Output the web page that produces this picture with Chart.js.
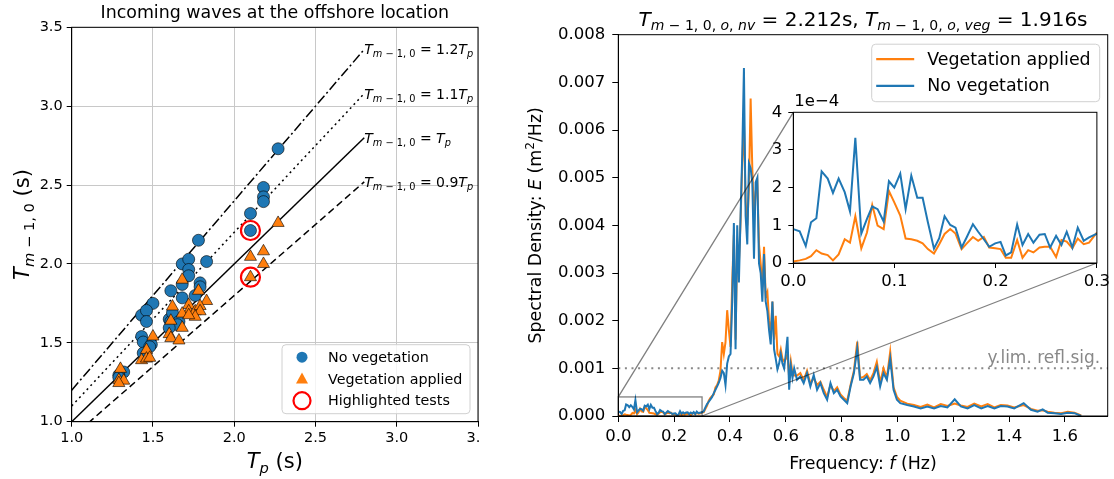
<!DOCTYPE html>
<html>
<head>
<meta charset="utf-8">
<script src="https://cdn.jsdelivr.net/npm/chart.js@4.4.0/dist/chart.umd.min.js"></script>
<style>
  body { margin: 0; background: #fff; width: 1114px; height: 479px; overflow: hidden; position: relative; }
  canvas { position: absolute; top: 0; }
  #left { left: 0; }
  #right { left: 480px; background: #fff; }
  #inset { left: 480px; }
</style>
</head>
<body>
<canvas id="left" width="500" height="479"></canvas>
<canvas id="right" width="634" height="479"></canvas>
<canvas id="inset" width="634" height="479"></canvas>
<script>
// ---- left panel: Tm-1,0 against Tp ----
var noVegTp = [2.27, 2.18, 2.18, 2.18, 2.10, 2.10, 1.78, 1.83, 1.68, 1.72, 1.72, 1.72, 1.68, 1.79, 1.79, 1.76, 1.68, 1.61,
               1.60, 1.61, 1.62, 1.66, 1.65, 1.60, 1.50, 1.43, 1.46, 1.46, 1.43, 1.44, 1.49, 1.48, 1.44, 1.32, 1.29, 1.29];
var noVegTm = [2.73, 2.485, 2.425, 2.395, 2.32, 2.212, 2.15, 2.015, 2.0, 2.03, 1.965, 1.925, 1.87, 1.88, 1.855, 1.80, 1.785, 1.83,
               1.65, 1.635, 1.69, 1.635, 1.615, 1.595, 1.75, 1.675, 1.705, 1.635, 1.54, 1.505, 1.49, 1.475, 1.435, 1.315, 1.295, 1.28];
var vegTp = [2.27, 2.18, 2.10, 2.18, 2.10, 1.68, 1.78, 1.83, 1.62, 1.72, 1.72, 1.68, 1.76, 1.79, 1.79, 1.76, 1.72, 1.61,
             1.68, 1.60, 1.61, 1.66, 1.50, 1.46, 1.43, 1.46, 1.48, 1.30, 1.29, 1.32, 1.29];
var vegTm = [2.26, 2.08, 2.045, 2.0, 1.916, 1.90, 1.83, 1.765, 1.73, 1.74, 1.70, 1.685, 1.70, 1.733, 1.70, 1.665, 1.675, 1.64,
             1.595, 1.555, 1.53, 1.515, 1.54, 1.455, 1.39, 1.40, 1.405, 1.335, 1.265, 1.26, 1.245];
var highlightTp = [2.1, 2.1];
var highlightTm = [2.212, 1.916];
var refRatios = [1.2, 1.1, 1.0, 0.9];
var refLabels = ['1.2', '1.1', '', '0.9'];
var refTp = [1.0, 2.8];

// ---- right panel: spectra (units of 1e-4 m2/Hz) ----
var E_UNIT = 1e-4;
var freqLow = [0, 0.0063, 0.0123, 0.0175, 0.0228, 0.028, 0.034, 0.0392, 0.0448, 0.0508, 0.056, 0.0613, 0.0672, 0.0728,
               0.078, 0.0833, 0.0893, 0.0945, 0.0998, 0.1057, 0.111, 0.1166, 0.1225, 0.1278, 0.133, 0.139, 0.1442, 0.1495,
               0.1551, 0.1603, 0.1663, 0.1715, 0.1775, 0.1827, 0.1883, 0.1936, 0.1995, 0.2048, 0.21, 0.2153, 0.2212,
               0.2265, 0.2321, 0.2373, 0.2433, 0.2485, 0.2538, 0.2597, 0.265, 0.2702, 0.2758, 0.2811, 0.287, 0.2923, 0.3];
var nvLow = [0.90, 0.84, 0.45, 1.08, 1.19, 2.43, 2.24, 1.86, 2.24, 1.88, 1.37, 3.32, 0.78, 1.17, 1.50, 1.43, 1.10, 2.17,
             2.0, 2.37, 1.43, 2.32, 1.73, 1.73, 1.08, 0.38, 0.66, 1.24, 1.01, 0.94, 0.41, 0.69, 1.03, 0.83, 0.63, 0.43,
             0.52, 0.56, 0.20, 0.28, 1.02, 0.48, 0.77, 0.54, 0.75, 0.77, 0.41, 0.72, 0.48, 0.83, 0.41, 0.94, 0.59, 0.68, 0.78];
var vegLow = [0.04, 0.07, 0.11, 0.18, 0.34, 0.25, 0.21, 0.07, 0.23, 0.63, 0.54, 1.24, 0.39, 0.81, 1.54, 0.99, 0.90, 1.91,
              1.61, 1.26, 0.65, 0.63, 0.59, 0.52, 0.37, 0.25, 0.50, 0.77, 0.90, 0.78, 0.37, 0.52, 0.69, 0.59, 0.69, 0.41,
              0.39, 0.37, 0.14, 0.14, 0.61, 0.14, 0.34, 0.28, 0.41, 0.43, 0.43, 0.16, 0.61, 0.57, 0.39, 0.65, 0.50, 0.54, 0.81];
var freqHigh = [0.306, 0.312, 0.318, 0.324, 0.33, 0.336, 0.342, 0.348, 0.354, 0.36, 0.366, 0.372, 0.378, 0.384, 0.39, 0.396,
                0.402, 0.408, 0.414, 0.42, 0.426, 0.432, 0.438, 0.444, 0.45, 0.456, 0.462, 0.468, 0.474, 0.48, 0.486, 0.492,
                0.498, 0.504, 0.51, 0.516, 0.522, 0.528, 0.534, 0.54, 0.546, 0.552, 0.558, 0.564, 0.57, 0.576, 0.582, 0.588,
                0.594, 0.6, 0.606, 0.612, 0.618, 0.624, 0.63,
                0.64, 0.652, 0.664, 0.676, 0.688, 0.7, 0.712, 0.724, 0.736, 0.748, 0.76, 0.772, 0.784, 0.796, 0.808, 0.82,
                0.832, 0.844, 0.856, 0.866, 0.878, 0.89, 0.902, 0.914, 0.926, 0.938, 0.95, 0.962, 0.974, 0.986, 0.998, 1.01,
                1.035, 1.059, 1.083, 1.107, 1.131, 1.155, 1.179, 1.205, 1.227, 1.251, 1.275, 1.3, 1.323, 1.347, 1.37, 1.394,
                1.418, 1.452, 1.478, 1.502, 1.52, 1.538, 1.562, 1.586, 1.61, 1.634, 1.658];
var nvHigh = [1.0, 1.8, 2.5, 3.0, 3.5, 4.0, 4.8, 5.5, 6.2, 7.0, 8.0, 9.5, 9.0, 6.5, 11.0, 12.5, 13.0, 24.0, 40.5, 14.0,
              40.0, 28.0, 42.0, 55.0, 73.0, 42.0, 36.0, 53.0, 52.0, 49.0, 33.0, 49.0, 50.0, 32.0, 30.0, 24.0, 34.0, 24.0,
              22.0, 18.0, 15.0, 24.0, 14.0, 12.0, 9.8, 11.0, 13.0, 11.0, 10.0, 13.0, 16.6, 5.5, 10.5, 8.0, 10.0,
              7.6, 8.3, 6.9, 9.0, 6.2, 8.6, 5.5, 6.9, 4.8, 3.4, 6.9, 4.8, 5.5, 4.1, 3.4, 2.7, 6.2, 9.0, 14.2, 7.6,
              7.6, 8.3, 6.9, 8.3, 10.3, 6.2, 9.0, 7.6, 12.1, 5.5, 3.4, 2.7,
              2.3, 2.0, 1.6, 2.0, 1.6, 2.1, 1.8, 3.5, 2.0, 1.6, 2.3, 1.6, 2.1, 1.6, 2.1, 2.0, 1.6, 2.7, 1.3, 0.9,
              1.4, 0.7, 0.6, 0.4, 0.7, 0.6, 0.0];
var vegHigh = [0.8, 1.5, 2.2, 3.2, 3.8, 4.2, 4.5, 6.0, 6.5, 7.5, 9.5, 15.5, 13.0, 15.5, 22.2, 18.0, 14.5, 28.0, 38.0, 16.0,
               36.0, 32.0, 41.0, 53.0, 62.0, 45.0, 40.0, 48.0, 66.6, 52.0, 42.0, 47.0, 49.0, 36.0, 32.0, 27.0, 35.5, 25.0,
               26.0, 20.0, 17.0, 24.0, 16.0, 21.0, 13.0, 12.5, 14.0, 12.0, 11.5, 12.0, 13.0, 8.0, 11.5, 9.0, 8.5,
               8.5, 9.0, 7.5, 9.5, 6.8, 8.0, 6.5, 7.2, 5.5, 4.0, 6.5, 5.2, 6.0, 4.5, 3.8, 3.2, 6.5, 9.5, 15.6, 8.0,
               8.2, 8.8, 7.5, 9.0, 11.4, 7.0, 10.0, 8.0, 13.5, 6.0, 4.0, 3.2,
               2.6, 2.3, 1.9, 2.4, 1.8, 2.5, 2.1, 2.6, 2.2, 1.9, 2.6, 2.0, 2.5, 1.8, 2.3, 2.2, 1.8, 2.3, 1.5, 1.1,
               1.2, 0.9, 0.7, 0.6, 0.9, 0.7, 0.1];
var reflLimit = 0.001;
var insetX = [0, 0.3];
var insetY = [0, 4e-4];

var BLUE = '#1f77b4', ORANGE = '#ff7f0e', RED = '#ff0000';
var FAMILY = '"DejaVu Sans"';
Chart.defaults.font.family = FAMILY;
Chart.defaults.color = '#000';

function pts(xs, ys, unit) {
  return xs.map(function (v, i) { return {x: v, y: ys[i] * (unit || 1)}; });
}

// draws text made of pieces: '' roman, 'i' italic, '_' subscript, '^' superscript
function partFont(p, size) {
  var small = p[1].indexOf('_') >= 0 || p[1].indexOf('^') >= 0;
  return (p[1].indexOf('i') >= 0 ? 'italic ' : '') + (small ? size * 0.7 : size) + 'px ' + FAMILY;
}
function drawRich(ctx, parts, x, y, size, align) {
  ctx.save();
  ctx.textAlign = 'left';
  ctx.textBaseline = 'alphabetic';
  var w = 0;
  parts.forEach(function (p) { ctx.font = partFont(p, size); w += ctx.measureText(p[0]).width; });
  var cx = align === 'center' ? x - w / 2 : (align === 'right' ? x - w : x);
  parts.forEach(function (p) {
    ctx.font = partFont(p, size);
    var dy = p[1].indexOf('_') >= 0 ? size * 0.22 : (p[1].indexOf('^') >= 0 ? -size * 0.42 : 0);
    ctx.fillText(p[0], cx, y + dy);
    cx += ctx.measureText(p[0]).width;
  });
  ctx.restore();
}
var TM = [['T', 'i'], ['m', '_i'], [' \u2212 1, 0', '_']];

function tickOpts(size, pad, fmt) {
  return {font: {size: size}, color: '#000', padding: pad, callback: fmt};
}

// ---------------- left chart ----------------
var leftDecor = {
  id: 'leftDecor',
  afterDraw: function (chart) {
    var ctx = chart.ctx, a = chart.chartArea, x = chart.scales.x, y = chart.scales.y;
    ctx.save();
    ctx.strokeStyle = '#000';
    ctx.lineWidth = 1;
    ctx.strokeRect(a.left, a.top, a.right - a.left, a.bottom - a.top);
    ctx.fillStyle = '#000';
    refRatios.forEach(function (k, i) {
      var px = x.getPixelForValue(refTp[1]), py = y.getPixelForValue(k * refTp[1]);
      drawRich(ctx, TM.concat([[' = ' + refLabels[i], ''], ['T', 'i'], ['p', '_i']]), px, py + 5, 14, 'left');
    });
    var cx = (a.left + a.right) / 2, cy = (a.top + a.bottom) / 2;
    ctx.font = '17.4px ' + FAMILY;
    ctx.textAlign = 'center';
    ctx.fillText('Incoming waves at the offshore location', cx, 18);
    drawRich(ctx, [['T', 'i'], ['p', '_i'], [' (s)', '']], cx, 468, 21, 'center');
    ctx.save();
    ctx.translate(29, cy);
    ctx.rotate(-Math.PI / 2);
    drawRich(ctx, TM.concat([[' (s)', '']]), 0, 0, 21, 'center');
    ctx.restore();

    // legend
    var bw = 188, bh = 69, bx = a.right - 8 - bw, by = a.bottom - 8 - bh;
    ctx.beginPath();
    ctx.roundRect(bx, by, bw, bh, 4);
    ctx.fillStyle = 'rgba(255,255,255,0.8)';
    ctx.fill();
    ctx.strokeStyle = '#d0d0d0';
    ctx.stroke();
    var rows = [by + 12.5, by + 34.3, by + 56];
    var mx = bx + 20;
    ctx.fillStyle = BLUE;
    ctx.beginPath(); ctx.arc(mx, rows[0], 5.5, 0, Math.PI * 2); ctx.fill();
    ctx.fillStyle = ORANGE;
    ctx.beginPath();
    ctx.moveTo(mx, rows[1] - 6.5); ctx.lineTo(mx + 6, rows[1] + 4.5); ctx.lineTo(mx - 6, rows[1] + 4.5);
    ctx.closePath(); ctx.fill();
    ctx.strokeStyle = RED; ctx.lineWidth = 2.2;
    ctx.beginPath(); ctx.arc(mx, rows[2], 8.5, 0, Math.PI * 2); ctx.stroke();
    ctx.fillStyle = '#000';
    ctx.font = '14.3px ' + FAMILY;
    ctx.textAlign = 'left';
    ctx.textBaseline = 'middle';
    ['No vegetation', 'Vegetation applied', 'Highlighted tests'].forEach(function (t, i) {
      ctx.fillText(t, bx + 46, rows[i] + 1);
    });
    ctx.restore();
  }
};

var refDashes = [[10, 3, 2, 3], [2, 3.5], [], [7, 4]];
var refSets = refRatios.map(function (k, i) {
  return {
    data: refTp.map(function (t) { return {x: t, y: k * t}; }),
    showLine: true, pointRadius: 0, borderColor: '#000', borderWidth: 1.5, borderDash: refDashes[i]
  };
});

new Chart(document.getElementById('left'), {
  type: 'scatter',
  data: {
    datasets: [
      {data: pts(highlightTp, highlightTm), pointStyle: 'circle', pointRadius: 9.5, pointBorderWidth: 2.2,
       pointBorderColor: RED, pointBackgroundColor: 'rgba(0,0,0,0)'},
      {data: pts(vegTp, vegTm), pointStyle: 'triangle', pointRadius: 7, pointBorderWidth: 0.6,
       pointBorderColor: '#000', pointBackgroundColor: ORANGE},
      {data: pts(noVegTp, noVegTm), pointStyle: 'circle', pointRadius: 6, pointBorderWidth: 0.6,
       pointBorderColor: '#000', pointBackgroundColor: BLUE}
    ].concat(refSets)
  },
  options: {
    responsive: false, animation: false, events: [],
    layout: {padding: {left: 0, top: 27.3, right: 22, bottom: 0}},
    plugins: {legend: {display: false}, tooltip: {enabled: false}},
    scales: {
      x: {type: 'linear', min: 1, max: 3.5,
          ticks: Object.assign(tickOpts(14.5, 3, function (v) { return v.toFixed(1); }), {stepSize: 0.5}),
          grid: {color: '#c8c8c8', tickColor: '#000', tickLength: 5}, border: {color: '#000'},
          afterFit: function (s) { s.height = 57.3; }},
      y: {type: 'linear', min: 1, max: 3.5,
          ticks: Object.assign(tickOpts(14.5, 4, function (v) { return v.toFixed(1); }), {stepSize: 0.5}),
          grid: {color: '#c8c8c8', tickColor: '#000', tickLength: 5}, border: {color: '#000'},
          afterFit: function (s) { s.width = 71.7; }}
    }
  },
  plugins: [leftDecor]
});

// ---------------- right chart ----------------
var freqAll = freqLow.concat(freqHigh);
var nvAll = nvLow.concat(nvHigh);
var vegAll = vegLow.concat(vegHigh);

var rightDecor = {
  id: 'rightDecor',
  beforeDatasetsDraw: function (chart) {
    var ctx = chart.ctx, a = chart.chartArea, py = chart.scales.y.getPixelForValue(reflLimit);
    ctx.save();
    ctx.strokeStyle = '#888';
    ctx.lineWidth = 2;
    ctx.setLineDash([2, 4.6]);
    ctx.beginPath(); ctx.moveTo(a.left, py); ctx.lineTo(a.right, py); ctx.stroke();
    ctx.restore();
  },
  afterDatasetsDraw: function (chart) {
    var ctx = chart.ctx, a = chart.chartArea, x = chart.scales.x, y = chart.scales.y;
    ctx.save();
    ctx.strokeStyle = 'rgba(0,0,0,0.5)';
    ctx.lineWidth = 1.3;
    var x0 = x.getPixelForValue(insetX[0]), x1 = x.getPixelForValue(insetX[1]);
    var y0 = y.getPixelForValue(insetY[0]), y1 = y.getPixelForValue(insetY[1]);
    ctx.strokeRect(x0, y1, x1 - x0, y0 - y1);
    ctx.fillStyle = '#888';
    ctx.font = '17px ' + FAMILY;
    ctx.textAlign = 'right';
    ctx.fillText('y.lim. refl.sig.', a.right - 7.5, y.getPixelForValue(reflLimit) - 5);
    ctx.restore();
  },
  afterDraw: function (chart) {
    var ctx = chart.ctx, a = chart.chartArea;
    ctx.save();
    ctx.strokeStyle = '#000';
    ctx.lineWidth = 1;
    ctx.strokeRect(a.left, a.top, a.right - a.left, a.bottom - a.top);
    ctx.fillStyle = '#000';
    var cx = (a.left + a.right) / 2, cy = (a.top + a.bottom) / 2;
    drawRich(ctx, TM.concat([[', ', '_'], ['o', '_i'], [', ', '_'], ['nv', '_i'],
      [' = ' + highlightTm[0].toFixed(3) + 's, ', '']]).concat(TM).concat([[', ', '_'], ['o', '_i'], [', ', '_'],
      ['veg', '_i'], [' = ' + highlightTm[1].toFixed(3) + 's', '']]), cx, 26, 20, 'center');
    drawRich(ctx, [['Frequency: ', ''], ['f', 'i'], [' (Hz)', '']], cx, 469, 17.4, 'center');
    ctx.save();
    ctx.translate(61, cy);
    ctx.rotate(-Math.PI / 2);
    drawRich(ctx, [['Spectral Density: ', ''], ['E', 'i'], [' (m', ''], ['2', '^'], ['/Hz)', '']], 0, 0, 17.4, 'center');
    ctx.restore();

    // legend
    var bw = 228, bh = 57.5, bx = a.right - 8 - bw, by = a.top + 9.5;
    ctx.beginPath();
    ctx.roundRect(bx, by, bw, bh, 4);
    ctx.fillStyle = 'rgba(255,255,255,0.8)';
    ctx.fill();
    ctx.strokeStyle = '#d0d0d0';
    ctx.lineWidth = 1;
    ctx.stroke();
    var items = [['Vegetation applied', ORANGE], ['No vegetation', BLUE]];
    ctx.font = '17.4px ' + FAMILY;
    ctx.textAlign = 'left';
    ctx.textBaseline = 'middle';
    items.forEach(function (it, i) {
      var ry = by + 15 + i * 26.7;
      ctx.strokeStyle = it[1];
      ctx.lineWidth = 2.2;
      ctx.beginPath(); ctx.moveTo(bx + 4.5, ry); ctx.lineTo(bx + 42.5, ry); ctx.stroke();
      ctx.fillStyle = '#000';
      ctx.fillText(it[0], bx + 55.5, ry + 1);
    });
    ctx.restore();
  }
};

function spectrumSets() {
  return [
    {data: pts(freqAll, nvAll, E_UNIT), borderColor: BLUE, borderWidth: 2, pointRadius: 0, tension: 0},
    {data: pts(freqAll, vegAll, E_UNIT), borderColor: ORANGE, borderWidth: 2, pointRadius: 0, tension: 0}
  ];
}

var mainChart = new Chart(document.getElementById('right'), {
  type: 'line',
  data: {datasets: spectrumSets()},
  options: {
    responsive: false, animation: false, events: [],
    layout: {padding: {left: 0, top: 34.7, right: 6.3, bottom: 0}},
    plugins: {legend: {display: false}, tooltip: {enabled: false}},
    scales: {
      x: {type: 'linear', min: 0, max: 1.753,
          ticks: Object.assign(tickOpts(16.5, 5, function (v) { return v.toFixed(1); }), {stepSize: 0.2, includeBounds: false}),
          grid: {drawOnChartArea: false, tickColor: '#000', tickLength: 6}, border: {color: '#000'},
          afterFit: function (s) { s.height = 63; }},
      y: {type: 'linear', min: 0, max: 0.008,
          ticks: Object.assign(tickOpts(16.5, 7, function (v) { return v.toFixed(3); }), {stepSize: 0.001}),
          grid: {drawOnChartArea: false, tickColor: '#000', tickLength: 6}, border: {color: '#000'},
          afterFit: function (s) { s.width = 138.3; }}
    }
  },
  plugins: [rightDecor]
});

// ---------------- inset ----------------
var insetDecor = {
  id: 'insetDecor',
  beforeDraw: function (chart) {
    var ctx = chart.ctx, a = chart.chartArea, mx = mainChart.scales.x, my = mainChart.scales.y;
    ctx.save();
    ctx.strokeStyle = 'rgba(0,0,0,0.5)';
    ctx.lineWidth = 1.3;
    ctx.beginPath();
    ctx.moveTo(mx.getPixelForValue(insetX[0]), my.getPixelForValue(insetY[1]));
    ctx.lineTo(a.left, a.top);
    ctx.moveTo(mx.getPixelForValue(insetX[1]), my.getPixelForValue(insetY[0]));
    ctx.lineTo(a.right, a.bottom);
    ctx.stroke();
    ctx.fillStyle = '#fff';
    ctx.fillRect(a.left, a.top, a.right - a.left, a.bottom - a.top);
    ctx.restore();
  },
  afterDraw: function (chart) {
    var ctx = chart.ctx, a = chart.chartArea;
    ctx.save();
    ctx.strokeStyle = '#000';
    ctx.lineWidth = 1;
    ctx.strokeRect(a.left, a.top, a.right - a.left, a.bottom - a.top);
    ctx.fillStyle = '#000';
    ctx.font = '16.5px ' + FAMILY;
    ctx.textAlign = 'left';
    ctx.fillText('1e\u22124', a.left + 1, a.top - 6);
    ctx.restore();
  }
};

new Chart(document.getElementById('inset'), {
  type: 'line',
  data: {datasets: spectrumSets()},
  options: {
    responsive: false, animation: false, events: [],
    layout: {padding: {left: 283.3, top: 112.3, right: 15, bottom: 186}},
    plugins: {legend: {display: false}, tooltip: {enabled: false}},
    scales: {
      x: {type: 'linear', min: insetX[0], max: insetX[1],
          ticks: Object.assign(tickOpts(16.5, 4, function (v) { return v.toFixed(1); }), {stepSize: 0.1}),
          grid: {drawOnChartArea: false, tickColor: '#000', tickLength: 5}, border: {color: '#000'},
          afterFit: function (s) { s.height = 30; }},
      y: {type: 'linear', min: insetY[0], max: insetY[1],
          ticks: Object.assign(tickOpts(16.5, 6, function (v) { return (v / E_UNIT).toFixed(0); }), {stepSize: E_UNIT}),
          grid: {drawOnChartArea: false, tickColor: '#000', tickLength: 5}, border: {color: '#000'},
          afterFit: function (s) { s.width = 30; }}
    }
  },
  plugins: [insetDecor]
});
</script>
</body>
</html>
